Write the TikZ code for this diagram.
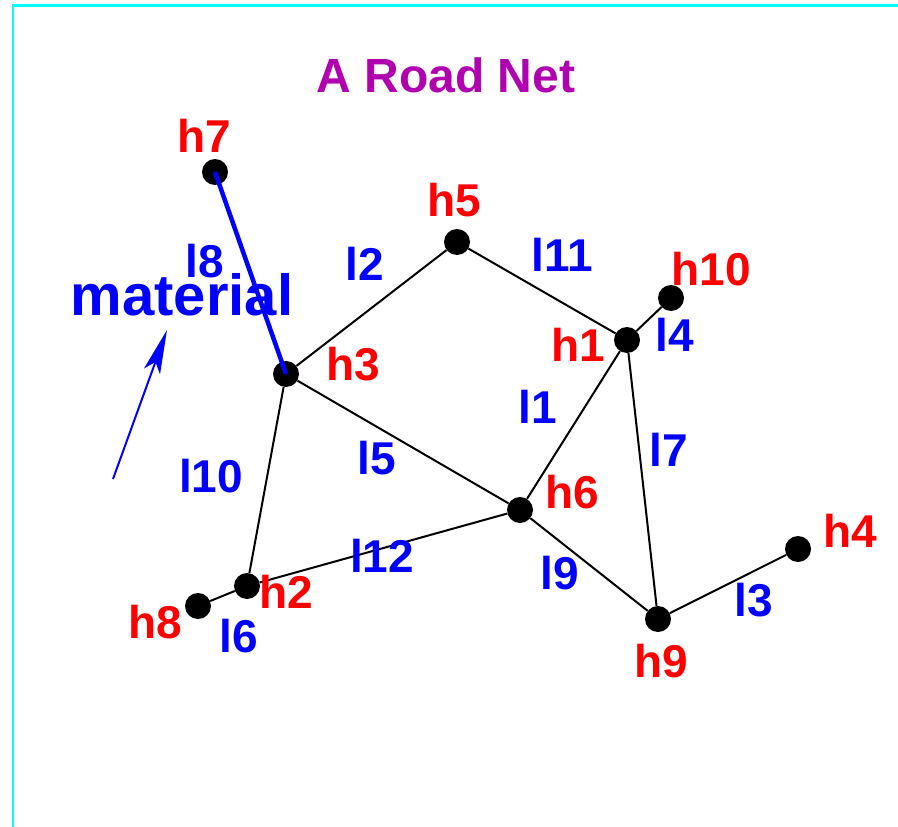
\documentclass[tikz,border=0pt]{standalone}
\usepackage{fontspec}
\setmainfont{Liberation Sans}
\usetikzlibrary{arrows.meta}
\definecolor{titlepurple}{RGB}{176,0,176}
\definecolor{framecyan}{RGB}{0,255,255}
\tikzset{
  dot/.style={circle,fill=black,inner sep=0pt,minimum size=26pt},
  hlab/.style={anchor=base,text=red,font=\bfseries\fontsize{46}{50}\selectfont,inner sep=0pt},
  llab/.style={anchor=base,text=blue,font=\bfseries\fontsize{46}{50}\selectfont,inner sep=0pt},
  road/.style={draw=black,line width=2pt},
  mainroad/.style={draw=blue,line width=4.5pt},
}
\begin{document}
\begin{tikzpicture}[x=1pt,y=-1pt]
\useasboundingbox (0,0) rectangle (898,827);
% frame
\draw[framecyan,line width=2.5pt] (13,827) -- (13,5.5) -- (898,5.5);
% title
\node[anchor=base,text=titlepurple,font=\bfseries\fontsize{48}{52}\selectfont,inner sep=0pt] (title) at (446,92) {A Road Net};
% houses
\node[dot] (h1) at (627,340) {};
\node[dot] (h2) at (247,586) {};
\node[dot] (h3) at (286,374) {};
\node[dot] (h4) at (798,549) {};
\node[dot] (h5) at (457,242) {};
\node[dot] (h6) at (520,510) {};
\node[dot] (h7) at (215,172) {};
\node[dot] (h8) at (198,606) {};
\node[dot] (h9) at (658,619) {};
\node[dot] (h10) at (671,298) {};
% roads
\draw[road] (h5) -- (h3);
\draw[road] (h5) -- (h1);
\draw[road] (h1) -- (h10);
\draw[road] (h1) -- (h6);
\draw[road] (h1) -- (h9);
\draw[road] (h3) -- (h6);
\draw[road] (h3) -- (h2);
\draw[road] (h2) -- (h6);
\draw[road] (h2) -- (h8);
\draw[road] (h6) -- (h9);
\draw[road] (h9) -- (h4);
\draw[mainroad] (h7.center) -- (h3.center);
% house labels
\node[hlab] (th7) at (204.5,152) {h7};
\node[hlab] (th5) at (454.5,216) {h5};
\node[hlab] (th10) at (711,285) {h10};
\node[hlab] (th1) at (578,361) {h1};
\node[hlab] (th3) at (353,380) {h3};
\node[hlab] (th6) at (572,508) {h6};
\node[hlab] (th4) at (850.5,547) {h4};
\node[hlab] (th2) at (286,608) {h2};
\node[hlab] (th8) at (155,638) {h8};
\node[hlab] (th9) at (661,677) {h9};
% road labels
\node[llab] (tl8) at (205,277) {l8};
\node[llab] (tl2) at (365,280) {l2};
\node[llab] (tl11) at (562,271) {l11};
\node[llab] (tl4) at (674.5,351) {l4};
\node[llab] (tl1) at (537.5,423) {l1};
\node[llab] (tl7) at (669,466) {l7};
\node[llab] (tl5) at (377,474) {l5};
\node[llab] (tl10) at (211,492) {l10};
\node[llab] (tl12) at (382,572) {l12};
\node[llab] (tl9) at (560,589) {l9};
\node[llab] (tl3) at (753.5,616) {l3};
\node[llab] (tl6) at (239,652) {l6};
% material
\node[anchor=base,text=blue,font=\bfseries\fontsize{58}{62}\selectfont,inner sep=0pt] (mat) at (182,315) {material};
\coordinate (arrS) at (113,479);
\coordinate (arrE) at (167,330);
\draw[blue,line width=2pt,-{Stealth[length=44pt,width=17pt,inset=10pt]}] (arrS) -- (arrE);
\end{tikzpicture}
\end{document}
